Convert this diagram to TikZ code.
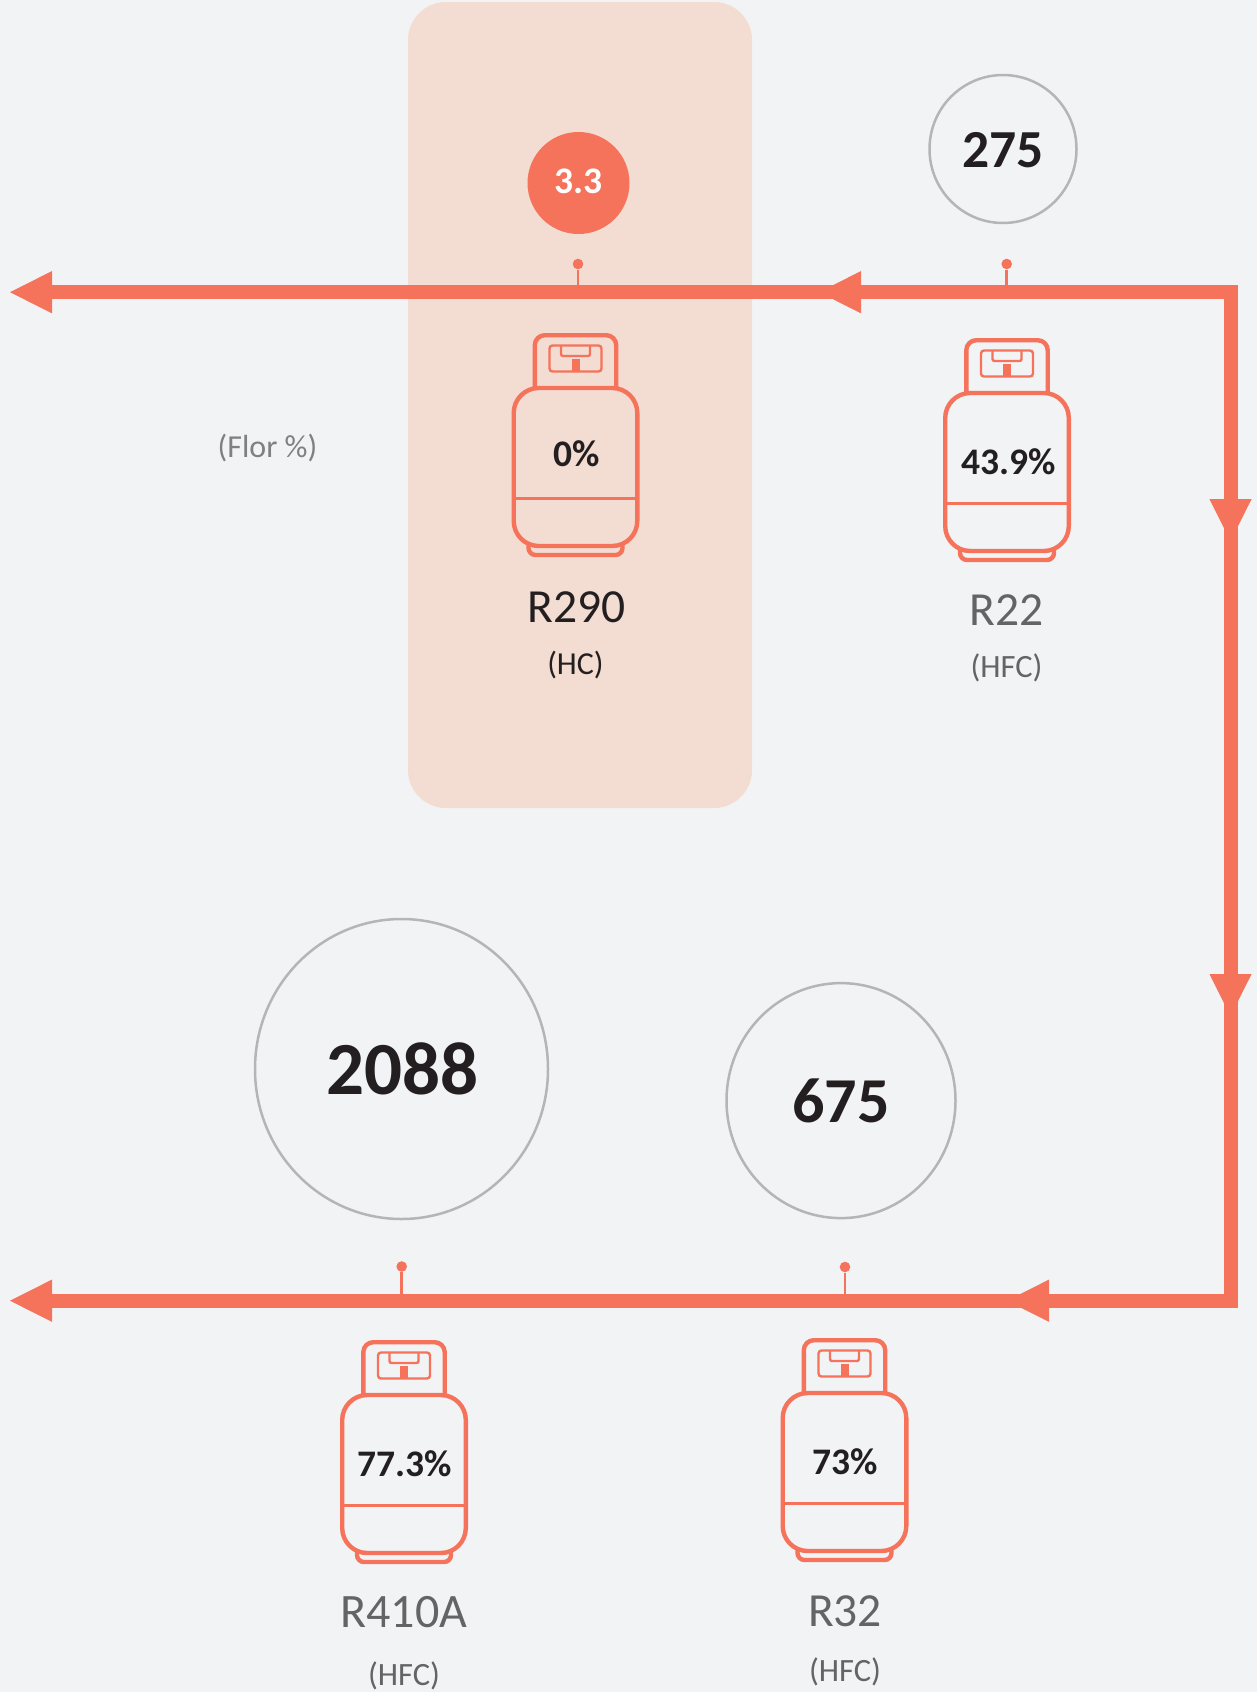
\documentclass[tikz,border=0pt]{standalone}
\usepackage{fontspec}
\setmainfont{Carlito}
\usetikzlibrary{arrows.meta,shapes.geometric}
\definecolor{bgc}{HTML}{F2F3F5}
\definecolor{panelc}{HTML}{F3DCD2}
\definecolor{orangec}{HTML}{F5735B}
\definecolor{ringc}{HTML}{B5B5B7}
\definecolor{inkc}{HTML}{231F20}
\definecolor{labelc}{HTML}{636466}
\definecolor{notec}{HTML}{808080}
\tikzset{
  flow/.style={draw=orangec,line width=14pt,line join=miter},
  headtip/.style={draw=orangec,line width=1pt,-{Triangle[length=42pt,width=42pt,fill=orangec,color=orangec]}},
  ring/.style={ellipse,draw=ringc,line width=2.5pt,inner sep=0pt,fill=none},
  pinstem/.style={draw=orangec,line width=2.6pt},
  pindot/.style={circle,fill=orangec,inner sep=0pt,minimum size=10.6pt},
  cylout/.style={draw=orangec,line width=4.4pt,fill=none},
  cylthin/.style={draw=orangec,line width=2.4pt,fill=none},
  txt/.style={anchor=base,inner sep=0pt,outer sep=0pt},
}
\newcommand{\gascyl}[2]{%
  \begin{scope}[shift={(#1,#2)}]
    \draw[cylout,rounded corners=10pt] (-40.7,55) -- (-40.7,2.2) -- (40.7,2.2) -- (40.7,55);
    \draw[cylout,rounded corners=7pt] (-47,212) -- (-47,222) -- (47,222) -- (47,212);
    \draw[cylout,rounded corners=25pt] (-61.8,55) rectangle (61.8,213);
    \draw[cylthin,line width=3pt] (-61.8,165) -- (61.8,165);
    \draw[cylthin,rounded corners=3pt] (-26,12.5) rectangle (26,38.5);
    \draw[cylthin,rounded corners=2pt] (-14.5,12.5) -- (-14.5,23) -- (14.5,23) -- (14.5,12.5);
    \fill[orangec] (-4,26) rectangle (4,38.5);
  \end{scope}}
\begin{document}
\begin{tikzpicture}[x=1pt,y=-1pt]
\useasboundingbox (0,0) rectangle (1257,1692);
\fill[bgc] (0,0) rectangle (1257,1692);
\fill[panelc,rounded corners=38pt] (408,2) rectangle (752,808);

% connectors
\coordinate (c1) at (1230.5,292.2);
\coordinate (c2) at (1230.5,1300.7);
\coordinate (a1) at (52,292.2);
\coordinate (a2) at (52,1300.7);
\coordinate (e1) at (10,292.2);
\coordinate (e2) at (10,1300.7);
\coordinate (h1s) at (861,292.2);
\coordinate (h1e) at (819,292.2);
\coordinate (h2s) at (1230.5,499);
\coordinate (h2e) at (1230.5,541);
\coordinate (h3s) at (1230.5,974);
\coordinate (h3e) at (1230.5,1016);
\coordinate (h4s) at (1049,1300.7);
\coordinate (h4e) at (1007,1300.7);
\draw[flow] (a1) -- (c1) -- (c2) -- (a2);
\draw[headtip] (h1s) -- (h1e);
\draw[headtip] (h2s) -- (h2e);
\draw[headtip] (h3s) -- (h3e);
\draw[headtip] (h4s) -- (h4e);
\draw[headtip] (a1) -- (e1);
\draw[headtip] (a2) -- (e2);

% pins and rings
\node[pindot] (p290) at (578,264) {};
\node[pindot] (p22) at (1006.7,264) {};
\node[pindot] (p410) at (401.7,1266.5) {};
\node[pindot] (p32) at (845,1267) {};
\coordinate (q290) at (578,292);
\coordinate (q22) at (1006.7,292);
\coordinate (q410) at (401.7,1300);
\coordinate (q32) at (845,1300);
\draw[pinstem] (p290) -- (q290);
\draw[pinstem] (p22) -- (q22);
\draw[pinstem] (p410) -- (q410);
\draw[pinstem] (p32) -- (q32);

\node[circle,fill=orangec,inner sep=0pt,minimum size=102pt] (b290) at (578.5,183) {};
\node[ring,minimum width=147pt,minimum height=148pt] (b22) at (1003,149) {};
\node[ring,minimum width=293pt,minimum height=300pt] (b410) at (401.5,1069) {};
\node[ring,minimum width=229pt,minimum height=235pt] (b32) at (841,1100.6) {};
\node[txt,text=white,font=\fontsize{37.5}{37.5}\selectfont\bfseries] (v290) at (578.5,193) {3.3};
\node[txt,text=inkc,font=\fontsize{53.5}{53.5}\selectfont\bfseries] (v22) at (1003,167) {275};
\node[txt,text=inkc,font=\fontsize{75}{75}\selectfont\bfseries] (v410) at (402.5,1094.5) {2088};
\node[txt,text=inkc,font=\fontsize{64}{64}\selectfont\bfseries] (v32) at (841,1122) {675};

% cylinders
\gascyl{575.5}{333}
\gascyl{1007}{338}
\gascyl{404}{1340}
\gascyl{844.5}{1338}
\node[txt,text=inkc,font=\fontsize{37.5}{37.5}\selectfont\bfseries] (s290) at (576.5,466) {0\%};
\node[txt,text=inkc,font=\fontsize{37.5}{37.5}\selectfont\bfseries] (s22) at (1008.5,474) {43.9\%};
\node[txt,text=inkc,font=\fontsize{37.5}{37.5}\selectfont\bfseries] (s410) at (405,1476) {77.3\%};
\node[txt,text=inkc,font=\fontsize{37.5}{37.5}\selectfont\bfseries] (s32) at (845,1474) {73\%};

% labels
\node[txt,text=inkc,font=\fontsize{47.5}{47.5}\selectfont] (n290) at (576.5,622.5) {R290};
\node[txt,text=inkc,font=\fontsize{32}{32}\selectfont] (f290) at (575.5,674.5) {(HC)};
\node[txt,text=labelc,font=\fontsize{47.5}{47.5}\selectfont] (n22) at (1006.5,625) {R22};
\node[txt,text=labelc,font=\fontsize{32.5}{32.5}\selectfont] (f22) at (1006.5,677) {(HFC)};
\node[txt,text=labelc,font=\fontsize{48}{48}\selectfont] (n410) at (404,1627) {R410A};
\node[txt,text=labelc,font=\fontsize{32.5}{32.5}\selectfont] (f410) at (404,1685) {(HFC)};
\node[txt,text=labelc,font=\fontsize{47.5}{47.5}\selectfont] (n32) at (845,1626) {R32};
\node[txt,text=labelc,font=\fontsize{32.5}{32.5}\selectfont] (f32) at (845,1681) {(HFC)};
\node[txt,text=notec,font=\fontsize{32}{32}\selectfont] (flor) at (267.5,457.5) {(Flor \%)};
\end{tikzpicture}
\end{document}
